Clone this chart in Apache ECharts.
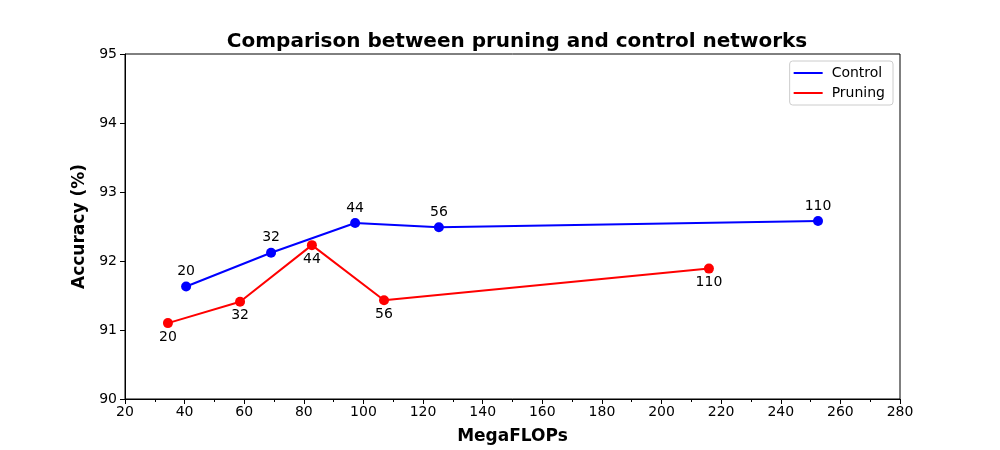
<!DOCTYPE html>
<html>
<head>
<meta charset="utf-8">
<script src="https://cdn.jsdelivr.net/npm/echarts@6/dist/echarts.min.js"></script>
<style>html,body{margin:0;padding:0;background:#fff}#c{width:1000px;height:450px}</style>
</head>
<body>
<div id="c"></div>
<script>
const controlFlops = [40.5, 69.0, 97.2, 125.3, 252.5];
const controlAcc   = [91.63, 92.12, 92.55, 92.49, 92.58];
const controlDepth = ['20', '32', '44', '56', '110'];
const pruningFlops = [34.4, 58.6, 82.7, 106.9, 215.9];
const pruningAcc   = [91.10, 91.41, 92.23, 91.43, 91.89];
const pruningDepth = ['20', '32', '44', '56', '110'];

const F = 'DejaVu Sans';
function pts(xs, ys){ return xs.map((x,i)=>[x, ys[i]]); }

const chart = echarts.init(document.getElementById('c'));
chart.setOption({
  animation: false,
  textStyle: {fontFamily: F},
  title: {
    text: 'Comparison between pruning and control networks',
    left: 512, top: 27, textAlign: 'center',
    textStyle: {fontFamily: F, fontSize: 20, fontWeight: 'bold', color: '#000'}
  },
  legend: {
    orient: 'vertical', right: 107, top: 61,
    data: ['Control', 'Pruning'],
    icon: 'rect', itemWidth: 29, itemHeight: 2, itemGap: 6,
    borderColor: '#ccc', borderWidth: 1, borderRadius: 3,
    padding: [5, 8, 5, 4],
    textStyle: {fontFamily: F, fontSize: 14, color: '#000', padding: [0,0,0,4]}
  },
  grid: {left: 125, right: 100, top: 54, bottom: 49, show: true, borderColor: '#000', borderWidth: 1},
  xAxis: {
    type: 'value', min: 20, max: 280, interval: 20,
    name: 'MegaFLOPs', nameLocation: 'middle', nameGap: 29,
    nameTextStyle: {fontFamily: F, fontSize: 17, fontWeight: 'bold', color: '#000'},
    axisLine: {show: true, lineStyle: {color: '#000', width: 1}},
    axisTick: {show: true, length: 5, lineStyle: {color: '#000'}},
    minorTick: {show: true, splitNumber: 2, length: 3, lineStyle: {color: '#000'}},
    axisLabel: {fontFamily: F, fontSize: 14, color: '#000', margin: 6},
    splitLine: {show: false}
  },
  yAxis: {
    type: 'value', min: 90, max: 95, interval: 1,
    name: 'Accuracy (%)', nameLocation: 'middle', nameGap: 32, nameRotate: 90,
    nameTextStyle: {fontFamily: F, fontSize: 17, fontWeight: 'bold', color: '#000'},
    axisLine: {show: true, lineStyle: {color: '#000', width: 1}},
    axisTick: {show: true, length: 5, lineStyle: {color: '#000'}},
    axisLabel: {fontFamily: F, fontSize: 14, color: '#000', margin: 8},
    splitLine: {show: false}
  },
  series: [
    {
      name: 'Control', type: 'line', data: pts(controlFlops, controlAcc),
      color: '#0000ff', symbol: 'circle', symbolSize: 10,
      lineStyle: {width: 2, color: '#0000ff'}, itemStyle: {color: '#0000ff'},
      label: {show: true, position: 'top', distance: 3, fontFamily: F, fontSize: 14, color: '#000',
        formatter: p => controlDepth[p.dataIndex]}
    },
    {
      name: 'Pruning', type: 'line', data: pts(pruningFlops, pruningAcc),
      color: '#ff0000', symbol: 'circle', symbolSize: 10,
      lineStyle: {width: 2, color: '#ff0000'}, itemStyle: {color: '#ff0000'},
      label: {show: true, position: 'bottom', distance: 2, fontFamily: F, fontSize: 14, color: '#000',
        formatter: p => pruningDepth[p.dataIndex]}
    }
  ]
});
</script>
</body>
</html>
